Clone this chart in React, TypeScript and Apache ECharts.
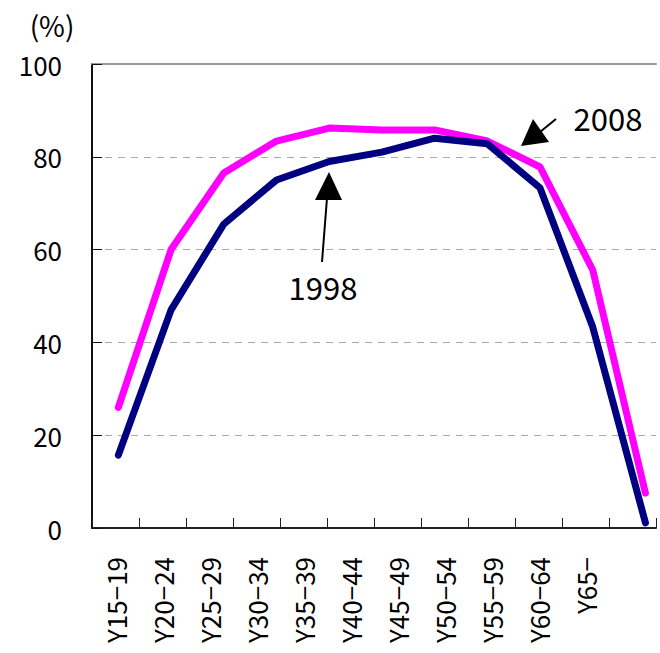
import React, { useEffect, useRef } from "react";
import * as echarts from "echarts";

const categories = ["Y15−19", "Y20−24", "Y25−29", "Y30−34", "Y35−39", "Y40−44", "Y45−49", "Y50−54", "Y55−59", "Y60−64", "Y65−"];
const series1998 = [15.7, 47, 65.5, 75, 79, 81, 84, 82.8, 73.3, 43.3, 1.1];
const series2008 = [26, 60, 76.5, 83.4, 86.2, 85.8, 85.8, 83.4, 77.8, 55.6, 7.5];
const yTicks = [0, 20, 40, 60, 80, 100];

const FONT = "'Noto Sans CJK JP', 'Noto Sans', sans-serif";

export default function App() {
  const ref = useRef<HTMLDivElement>(null);
  useEffect(() => {
    if (!ref.current) return;
    const chart = echarts.init(ref.current, undefined, { renderer: "svg" });
    const labelCats = [...categories, ""];
    chart.setOption({
      animation: false,
      backgroundColor: "#ffffff",
      textStyle: { fontFamily: FONT },
      grid: { left: 92, right: 4, top: 64, bottom: 125 },
      xAxis: [
        {
          type: "category",
          data: labelCats,
          position: "bottom",
          boundaryGap: true,
          axisLine: { show: true, onZero: false, lineStyle: { color: "#222", width: 2 } },
          axisTick: { show: true, inside: true, length: 10, alignWithLabel: false, lineStyle: { color: "#222", width: 1 } },
          axisLabel: { rotate: 90, fontSize: 26, color: "#000", margin: 29, fontFamily: FONT, interval: 0 },
          splitLine: { show: false },
        },
        {
          type: "value",
          min: -0.5,
          max: 10.2,
          show: false,
        },
        {
          type: "category",
          data: labelCats,
          position: "top",
          axisLine: { show: true, onZero: false, lineStyle: { color: "#999", width: 2 } },
          axisTick: { show: false },
          axisLabel: { show: false },
        },
      ],
      yAxis: {
        type: "value",
        min: yTicks[0],
        max: yTicks[yTicks.length - 1],
        interval: 20,
        axisLine: { show: true, onZero: false, lineStyle: { color: "#111", width: 2 } },
        axisTick: { show: true, inside: true, length: 10, lineStyle: { color: "#111", width: 1 } },
        axisLabel: { fontSize: 26, color: "#000", margin: 30, fontFamily: FONT },
        splitLine: { show: true, lineStyle: { color: "#aaa", width: 1, type: [7, 6] } },
      },
      series: [
        {
          name: "1998",
          type: "line",
          xAxisIndex: 1,
          data: series1998.map((v, i) => [i, v]),
          showSymbol: false,
          lineStyle: { color: "#000080", width: 7, cap: "round", join: "round" },
          z: 3,
        },
        {
          name: "2008",
          type: "line",
          xAxisIndex: 1,
          data: series2008.map((v, i) => [i, v]),
          showSymbol: false,
          lineStyle: { color: "#ff00ff", width: 7, cap: "round", join: "round" },
          z: 2,
        },
      ],
      graphic: [
        { type: "text", x: 52, y: 25, style: { text: "(%)", fontSize: 28, fill: "#000", fontFamily: FONT, align: "center", verticalAlign: "middle" } },
        { type: "line", shape: { x1: 322, y1: 262, x2: 327, y2: 198 }, style: { stroke: "#000", lineWidth: 2 } },
        { type: "polygon", shape: { points: [[329, 172], [315, 200], [342, 200]] }, style: { fill: "#000" } },
        { type: "text", x: 323, y: 286, style: { text: "1998", fontSize: 31, fill: "#000", fontFamily: FONT, align: "center", verticalAlign: "middle" } },
        { type: "line", shape: { x1: 540, y1: 132, x2: 556, y2: 119 }, style: { stroke: "#000", lineWidth: 2 } },
        { type: "polygon", shape: { points: [[521, 146], [533, 119], [549, 142]] }, style: { fill: "#000" } },
        { type: "text", x: 608, y: 117, style: { text: "2008", fontSize: 31, fill: "#000", fontFamily: FONT, align: "center", verticalAlign: "middle" } },
      ],
    });
    return () => chart.dispose();
  }, []);
  return <div ref={ref} style={{ position: "fixed", left: 0, top: 0, width: 660, height: 653 }} />;
}
